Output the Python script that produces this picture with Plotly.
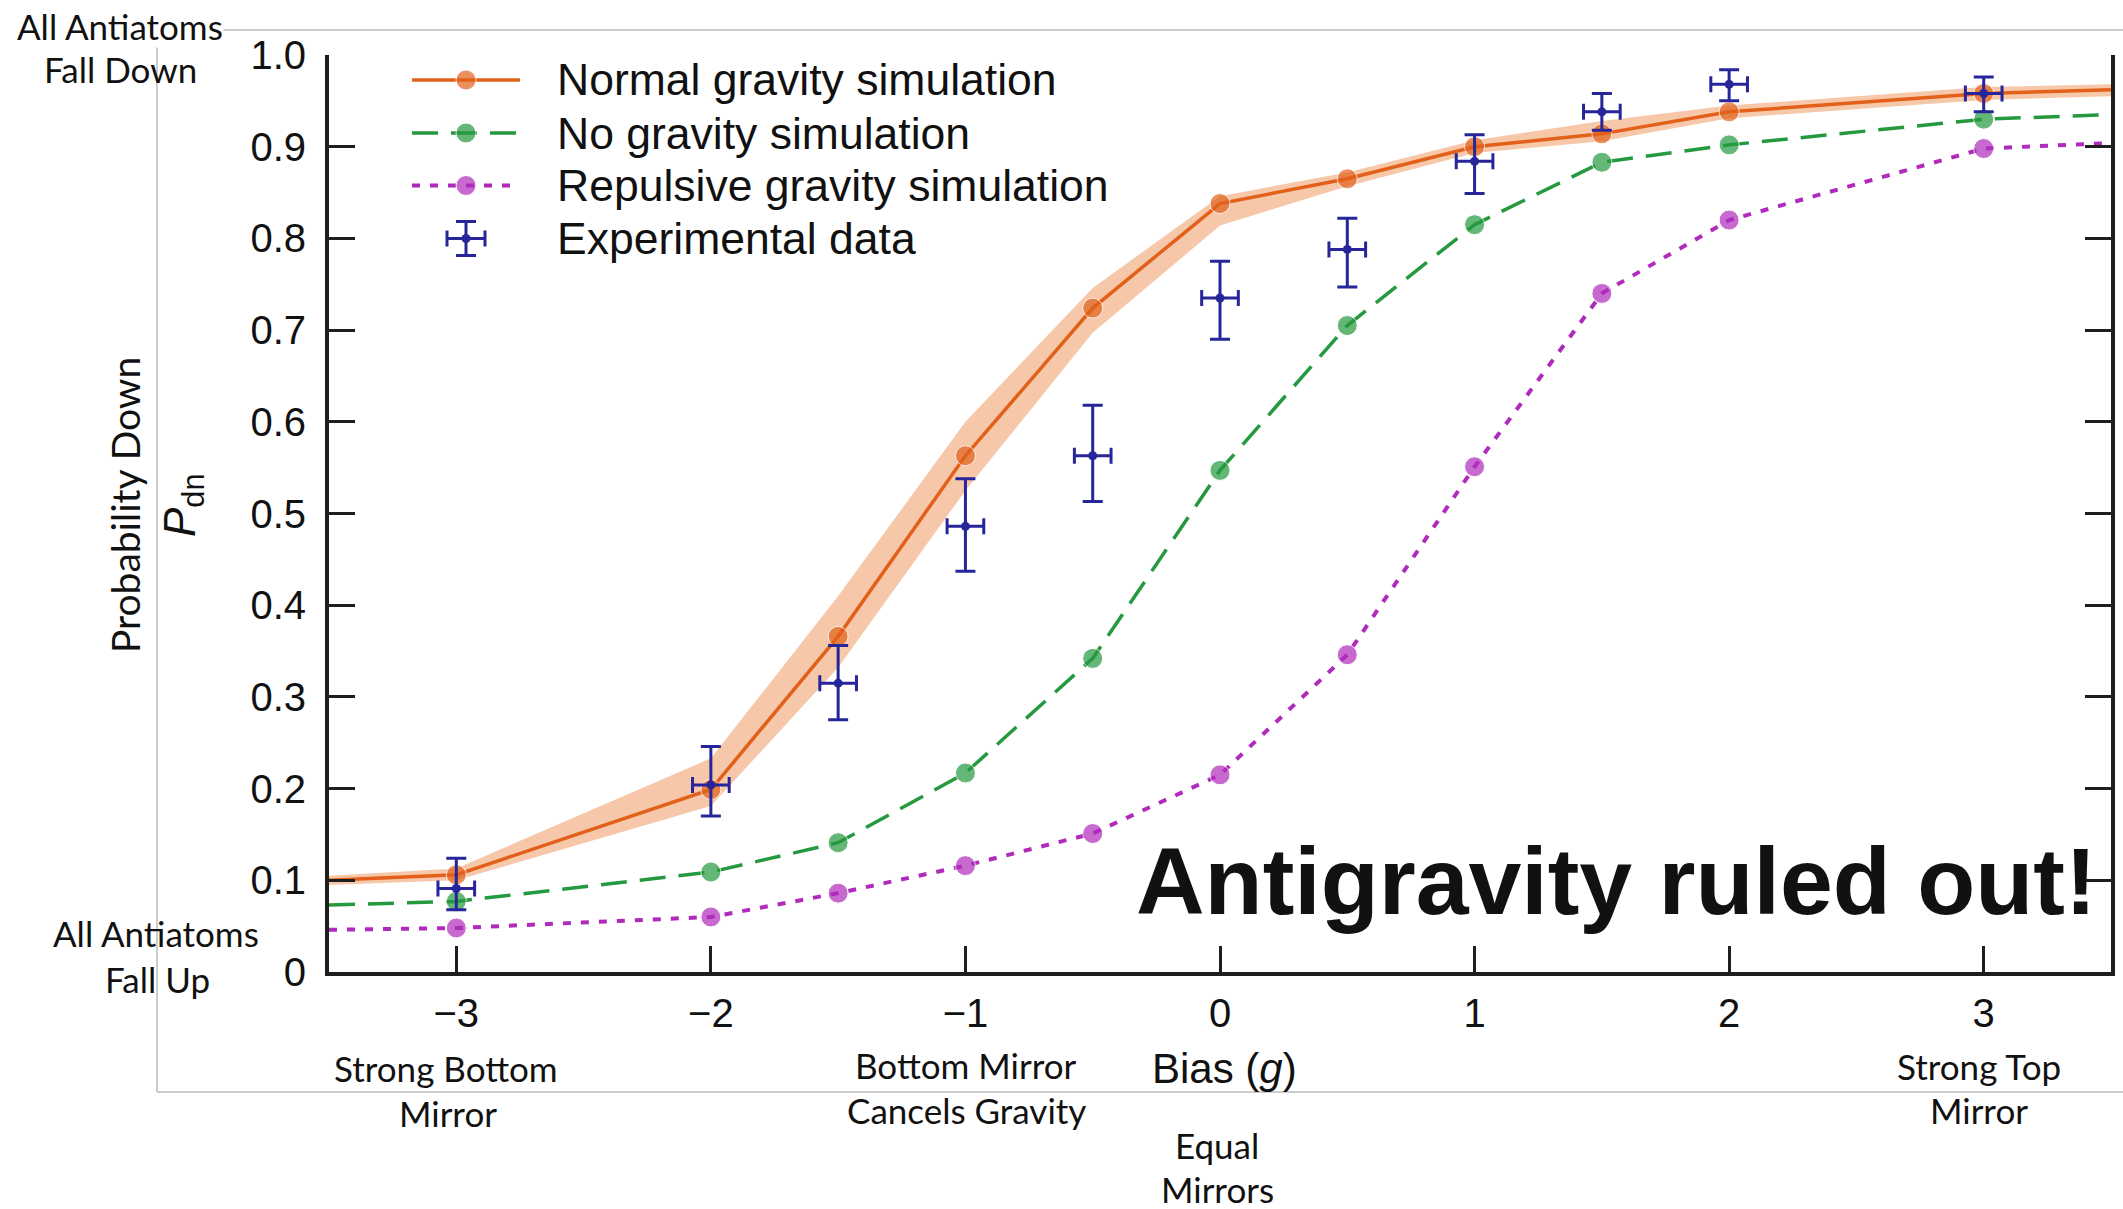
import plotly.graph_objects as go

# ---------------- data ----------------
bias_sim = [-3.5, -3, -2, -1.5, -1, -0.5, 0, 0.5, 1, 1.5, 2, 3, 3.5]
normal_gravity = [0.100, 0.106, 0.199, 0.366, 0.563, 0.724, 0.838, 0.865, 0.900, 0.914, 0.938, 0.958, 0.962]
normal_upper = [0.105, 0.113, 0.233, 0.410, 0.600, 0.746, 0.846, 0.872, 0.907, 0.928, 0.945, 0.965, 0.968]
normal_lower = [0.095, 0.100, 0.181, 0.332, 0.525, 0.697, 0.814, 0.857, 0.893, 0.906, 0.931, 0.951, 0.955]
no_gravity = [0.073, 0.077, 0.109, 0.141, 0.217, 0.342, 0.547, 0.705, 0.815, 0.883, 0.902, 0.930, 0.935]
repulsive_gravity = [0.046, 0.048, 0.060, 0.086, 0.116, 0.151, 0.215, 0.346, 0.551, 0.740, 0.820, 0.898, 0.904]

bias_exp = [-3, -2, -1.5, -1, -0.5, 0, 0.5, 1, 1.5, 2, 3]
p_exp = [0.091, 0.204, 0.315, 0.486, 0.563, 0.735, 0.788, 0.884, 0.938, 0.968, 0.958]
p_err_up = [0.033, 0.042, 0.041, 0.052, 0.055, 0.040, 0.034, 0.029, 0.020, 0.016, 0.018]
p_err_down = [0.023, 0.034, 0.040, 0.049, 0.050, 0.045, 0.041, 0.035, 0.020, 0.018, 0.020]
bias_err = [0.072] * len(bias_exp)

x_ticks = [-3, -2, -1, 0, 1, 2, 3]
x_tick_text = ["\u22123", "\u22122", "\u22121", "0", "1", "2", "3"]
y_ticks = [0, 0.1, 0.2, 0.3, 0.4, 0.5, 0.6, 0.7, 0.8, 0.9, 1.0]
y_tick_text = ["0", "0.1", "0.2", "0.3", "0.4", "0.5", "0.6", "0.7", "0.8", "0.9", "1.0"]

legend_names = ["Normal gravity simulation", "No gravity simulation",
                "Repulsive gravity simulation", "Experimental data"]

# ---------------- layout geometry ----------------
W, H = 2123, 1209
M_L, M_R, M_T, M_B = 329, 12, 55, 237
PW = W - M_L - M_R
PH = H - M_T - M_B


def px(x):
    """page pixel column -> paper x"""
    return (x - M_L) / PW


def py(y):
    """page pixel row -> paper y"""
    return (H - M_B - y) / PH


ORANGE = "#e2601a"
GREEN = "#25993f"
MAGENTA = "#b02bbb"
BLUE = "#26269a"
BAND = "#f6c8a9"
AXIS = "#1e1e1e"
FRAME = "#bdbdbd"

FONT = "Liberation Sans"
NOTE_FONT = "Lato"

MS = 20
end_sizes = [0] + [MS] * (len(bias_sim) - 2) + [0]

ORANGE_LINE = dict(color=ORANGE, width=3.5)
GREEN_LINE = dict(color=GREEN, width=3.5, dash="26px,13px")
MAGENTA_LINE = dict(color=MAGENTA, width=4, dash="8px,10px")

fig = go.Figure()

# uncertainty band of the normal-gravity simulation
fig.add_trace(go.Scatter(x=bias_sim, y=normal_upper, mode="lines", line=dict(width=0),
                         hoverinfo="skip", showlegend=False))
fig.add_trace(go.Scatter(x=bias_sim, y=normal_lower, mode="lines", line=dict(width=0),
                         fill="tonexty", fillcolor=BAND, hoverinfo="skip", showlegend=False))

fig.add_trace(go.Scatter(x=bias_sim, y=repulsive_gravity, mode="lines+markers",
                         line=MAGENTA_LINE, marker=dict(color=MAGENTA, size=end_sizes),
                         showlegend=False))
fig.add_trace(go.Scatter(x=bias_sim, y=no_gravity, mode="lines+markers",
                         line=GREEN_LINE, marker=dict(color=GREEN, size=end_sizes),
                         showlegend=False))
fig.add_trace(go.Scatter(x=bias_sim, y=normal_gravity, mode="lines+markers",
                         line=ORANGE_LINE, marker=dict(color=ORANGE, size=end_sizes),
                         showlegend=False))

fig.add_trace(go.Scatter(
    x=bias_exp, y=p_exp, mode="markers",
    marker=dict(color=BLUE, size=9),
    error_y=dict(type="data", array=p_err_up, arrayminus=p_err_down, symmetric=False,
                 color=BLUE, thickness=3, width=10),
    error_x=dict(type="data", array=bias_err, color=BLUE, thickness=3, width=8),
    showlegend=False))

# keeps the right-hand frame axis alive
fig.add_trace(go.Scatter(x=[None], y=[None], yaxis="y2", showlegend=False, hoverinfo="skip"))

# ---------------- hand-drawn legend (pixel-unit overlay axes) ----------------
leg_rows = [80, 133, 185.5, 238.5]
leg_x0, leg_xm, leg_x1 = 412, 466, 520
leg_styles = [ORANGE_LINE, GREEN_LINE, MAGENTA_LINE]
for yrow, st in zip(leg_rows[:3], leg_styles):
    fig.add_trace(go.Scatter(x=[leg_x0, leg_xm, leg_x1], y=[yrow] * 3, mode="lines+markers",
                             line=st, marker=dict(color=st["color"], size=[0, MS, 0]),
                             xaxis="x3", yaxis="y3", showlegend=False, hoverinfo="skip"))
fig.add_trace(go.Scatter(x=[leg_xm], y=[leg_rows[3]], mode="markers",
                         marker=dict(color=BLUE, size=9),
                         error_y=dict(type="data", array=[17], color=BLUE, thickness=3, width=10),
                         error_x=dict(type="data", array=[19], color=BLUE, thickness=3, width=8),
                         xaxis="x3", yaxis="y3", showlegend=False, hoverinfo="skip"))

annotations = []
for yrow, name in zip(leg_rows, legend_names):
    annotations.append(dict(x=px(556), y=py(yrow), xref="paper", yref="paper", text=name,
                            showarrow=False, xanchor="left", yanchor="middle", borderpad=0,
                            font=dict(family=FONT, size=44.5, color="#111111")))


def note(text, x, y, size=35, family=NOTE_FONT, bg=None, angle=0, anchor="center"):
    d = dict(x=px(x), y=py(y), xref="paper", yref="paper", text=text, showarrow=False,
             xanchor=anchor, yanchor="middle", textangle=angle, borderpad=0,
             font=dict(family=family, size=size, color="#111111"))
    if bg:
        d["bgcolor"] = bg
    annotations.append(d)


note("All Antiatoms", 120, 26, bg="white")
note("Fall Down", 120, 69)
note("All Antiatoms", 156, 933)
note("Fall Up", 157, 979)
note("Strong Bottom", 446, 1068)
note("Mirror", 448, 1113)
note("Bottom Mirror", 966, 1065)
note("Cancels Gravity", 966, 1110)
note("Equal", 1217, 1145)
note("Mirrors", 1217, 1189)
note("Strong Top", 1979, 1066)
note("Mirror", 1979, 1110)
note("Bias (<i>g</i>)", 1224, 1068, size=42, family=FONT)
note("Probability Down", 125, 505, size=39, angle=-90)
note("<i>P</i><sub>dn</sub>", 183, 505, size=44, family=FONT, angle=-90)
note("<b>Antigravity ruled out!</b>", 1616, 881, size=95, family=FONT)

# thin outer frame
shapes = [
    dict(type="line", xref="paper", yref="paper", x0=px(157), x1=px(W + 5), y0=py(30), y1=py(30),
         line=dict(color=FRAME, width=1.5), layer="below"),
    dict(type="line", xref="paper", yref="paper", x0=px(157), x1=px(157), y0=py(30), y1=py(1092),
         line=dict(color=FRAME, width=1.5), layer="below"),
    dict(type="line", xref="paper", yref="paper", x0=px(157), x1=px(W + 5), y0=py(1092), y1=py(1092),
         line=dict(color=FRAME, width=1.5), layer="below"),
]

axis_common = dict(showline=True, linecolor=AXIS, linewidth=4, ticks="inside", ticklen=26,
                   tickwidth=3, tickcolor=AXIS, showgrid=False, zeroline=False)

fig.update_layout(
    width=W, height=H,
    margin=dict(l=M_L, r=M_R, t=M_T, b=M_B, pad=0),
    paper_bgcolor="white", plot_bgcolor="white",
    font=dict(family=FONT, color="#111111"),
    showlegend=False,
    xaxis=dict(range=[-3.5, 3.5], tickvals=x_ticks, ticktext=x_tick_text,
               tickfont=dict(size=40, family=FONT, color="#111111"),
               ticklabelstandoff=3, **axis_common),
    yaxis=dict(range=[0, 1], tickvals=y_ticks, ticktext=y_tick_text,
               tickfont=dict(size=40, family=FONT, color="#111111"),
               ticklabelstandoff=11, **axis_common),
    yaxis2=dict(range=[0, 1], tickvals=y_ticks, overlaying="y", side="right", anchor="x",
                showticklabels=False, **axis_common),
    xaxis3=dict(range=[M_L, W - M_R], overlaying="x", anchor="y3", visible=False),
    yaxis3=dict(range=[H - M_B, M_T], overlaying="y", anchor="x3", visible=False),
    annotations=annotations,
    shapes=shapes,
)

fig.write_html("out.html")
